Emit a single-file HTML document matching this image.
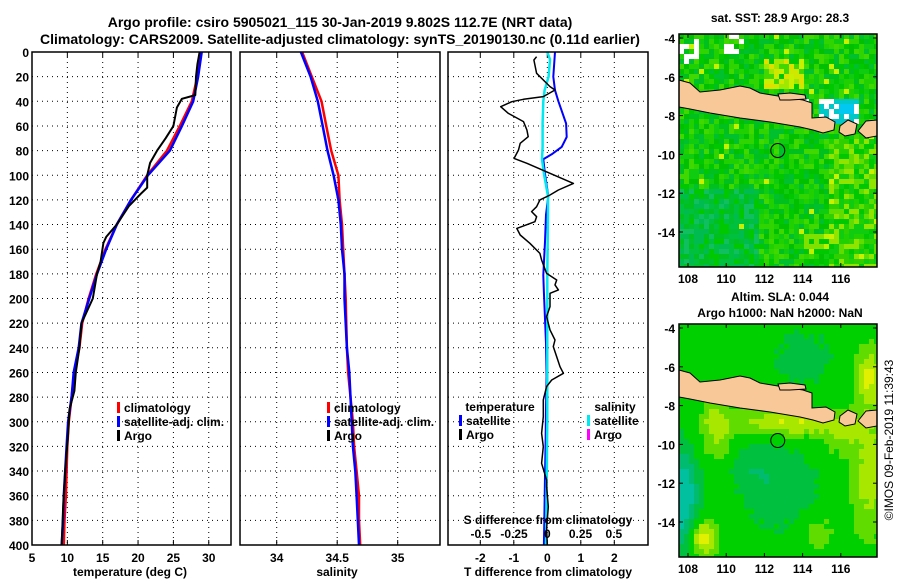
<!DOCTYPE html>
<html><head><meta charset="utf-8">
<style>
html,body{margin:0;padding:0;background:#fff;}
svg{display:block;font-family:"Liberation Sans",Arial,sans-serif;font-weight:bold;}
</style></head>
<body>
<svg id="fig" width="900" height="580" viewBox="0 0 900 580" xmlns="http://www.w3.org/2000/svg">
<text x="340" y="27" font-size="14" text-anchor="middle">Argo profile: csiro 5905021_115 30-Jan-2019 9.802S 112.7E (NRT data)</text>
<text x="340" y="44" font-size="14" text-anchor="middle">Climatology: CARS2009. Satellite-adjusted climatology: synTS_20190130.nc (0.11d earlier)</text>
<text x="780" y="22" font-size="12" text-anchor="middle">sat. SST: 28.9 Argo: 28.3</text>
<text x="780" y="301" font-size="12" text-anchor="middle">Altim. SLA: 0.044</text>
<text x="780" y="317" font-size="12" text-anchor="middle">Argo h1000: NaN h2000: NaN</text>
<text transform="translate(893,440) rotate(-90)" font-size="12" font-weight="normal" text-anchor="middle">©IMOS 09-Feb-2019 11:39:43</text>
<g id="layer"></g>
</svg>
<script>
// ---- data ----
const depthTicks=[0,20,40,60,80,100,120,140,160,180,200,220,240,260,280,300,320,340,360,380,400];
const tempTicks=[5,10,15,20,25,30];
const salTicks=[34,34.5,35];
const salTickLabels=["34","34.5","35"];
const tdTicks=[-2,-1,0,1,2];
const sdTicks=[-0.5,-0.25,0,0.25,0.5];
const sdTickLabels=["-0.5","-0.25","0","0.25","0.5"];
const lonTicks=[108,110,112,114,116];
const latTicks=[-4,-6,-8,-10,-12,-14];

const profDepth=[0,20,40,60,80,100,120,140,160,180,200,220,240,260,280,300,320,340,360,380,400];
const tempClim=[28.9,28.4,27.6,25.9,24.1,21.3,19.0,17.0,15.4,14.1,13.0,12.1,11.7,11.0,10.6,10.2,10.0,9.9,9.8,9.6,9.5];
const tempSat=[29.0,28.5,27.8,26.2,24.5,21.4,19.0,17.0,15.5,14.2,13.1,12.0,11.6,10.9,10.6,10.1,9.9,9.7,9.5,9.4,9.2];
const argoDepth=[0,10,20,35,38,45,60,70,80,90,100,110,115,125,140,150,155,170,180,200,220,240,260,275,290,310,340,370,400];
const argoTemp=[28.7,28.4,28.2,28.1,26.2,25.5,25.0,23.9,22.7,21.7,21.3,21.3,20.4,18.7,17.0,15.5,15.1,14.7,14.2,13.6,12.0,11.7,11.2,11.0,10.3,10.1,9.7,9.4,9.2];
const salClim=[34.21,34.29,34.37,34.41,34.45,34.51,34.52,34.54,34.55,34.56,34.57,34.575,34.58,34.59,34.61,34.63,34.64,34.66,34.68,34.68,34.69];
const salSat=[34.20,34.28,34.34,34.38,34.42,34.47,34.51,34.53,34.54,34.56,34.56,34.57,34.58,34.60,34.61,34.62,34.63,34.65,34.66,34.67,34.68];

const tdSatDepth=[0,20,31,40,58,69,77,83,87,99,117,132,154,181,195,236,263,290,317,344,382,400];
const tdSat=[0.23,0.18,0.23,0.33,0.56,0.58,0.43,0.13,-0.12,-0.07,0.03,-0.04,-0.07,-0.12,-0.10,-0.04,-0.02,-0.04,-0.05,-0.07,-0.09,-0.10];
const sdSatDepth=[0,6,20,31,40,58,77,87,99,117,132,181,300,400];
const sdSat=[0.0,0.02,0.01,-0.02,-0.03,-0.035,-0.035,-0.04,-0.025,0.005,0.005,0.0,0.0,-0.01];
const tdArgoDepth=[3.8,6.5,17.3,28.1,30.8,36.2,38.4,40.3,44.4,49.8,56.5,63.3,68.7,74.1,79.5,86.3,90.3,98.4,106.6,112,116,120,125.5,129.5,133.6,137.7,143.1,148.5,155.2,163.4,168.8,179.6,185,189,193,195.8,206.6,214.7,225.5,233.7,239,247.2,255.3,260.7,266.1,271.5,282.3,295.9,309.4,320.2,333.7,347.3,352.7,368.9,386.5,400];
const tdArgo=[-0.32,-0.40,-0.32,0.08,0.23,-0.12,-0.71,-1.06,-1.39,-1.16,-0.71,-0.61,-0.57,-0.81,-0.86,-0.99,-0.61,0.08,0.78,0.33,0.08,-0.22,-0.32,-0.47,-0.32,-0.37,-0.91,-0.81,-0.52,-0.22,-0.17,-0.02,0.28,0.23,0.33,0.08,0.08,-0.02,0.08,0.23,0.18,0.28,0.38,0.48,0.13,-0.02,-0.12,-0.12,-0.17,-0.12,-0.17,-0.02,-0.02,0.03,-0.02,0.0];
const argoLon=112.7, argoLat=-9.802;

// ---- helpers ----
const NS="http://www.w3.org/2000/svg";
const layer=document.getElementById('layer');
function mk(tag,attrs,parent){const e=document.createElementNS(NS,tag);for(const k in attrs)e.setAttribute(k,attrs[k]);(parent||layer).appendChild(e);return e;}
const TOP=52,BOT=545;
const yD=d=>TOP+(d/400)*(BOT-TOP);
const xT=t=>32+(t-5)*7.07;
const xS=s=>276.7+(s-34)*121;
const xTD=v=>547.3+v*33.5;
const xSD=v=>547.3+v*133;
const xLon=l=>688+(l-108)*19.1;
const yLat=(la,off)=>38+off+(-4-la)*19.4;

function panelFrame(x0,x1,name){
  const g=mk('g',{});
  
  
  depthTicks.forEach(d=>{
    if(d===0||d===400)return;
    const l=mk('line',{x1:x0,x2:x1,y1:yD(d),y2:yD(d),stroke:'#000','stroke-width':1,'stroke-dasharray':'1,4'},g);
    
    
  });
  return g;
}
function vgrid(g,xs){xs.forEach(x=>{const l=mk('line',{x1:x,x2:x,y1:TOP,y2:BOT,stroke:'#000','stroke-width':1,'stroke-dasharray':'1,4'},g);
  
  
  mk('line',{x1:x,x2:x,y1:TOP,y2:TOP+5,stroke:'#000'},g);mk('line',{x1:x,x2:x,y1:BOT,y2:BOT-5,stroke:'#000'},g);});}
function border(g,x0,x1){const r=mk('rect',{x:x0,y:TOP,width:x1-x0,height:BOT-TOP,fill:'none',stroke:'#000','stroke-width':1.5},g);
  
  }
function line(xs,ys,color,w,name,g){
  const pts=xs.map((x,i)=>x.toFixed(1)+','+ys[i].toFixed(1)).join(' ');
  const p=mk('polyline',{points:pts,fill:'none',stroke:color,'stroke-width':w,'stroke-linejoin':'round'},g);
  
  
  return p;
}
function txt(x,y,s,anchor,size,name,g){const t=mk('text',{x:x,y:y,'text-anchor':anchor,'font-size':size},g);t.textContent=s;
  
  
  return t;}
function legendEntry(x,y,color,label,g){
  const r=mk('rect',{x:x,y:y-10,width:3,height:11,fill:color},g);
  
  
  const t=txt(x+7,y,label,'start',12,'legend-entry',g);
  return t;
}

depthTicks.forEach(d=>{txt(29,yD(d)+5,String(d),'end',12,'depth-tick-label');});

// ---- panel 1: temperature ----
const p1=panelFrame(32,231,'temperature-panel');
vgrid(p1,tempTicks.slice(1).map(xT));
line(tempClim.map(xT),profDepth.map(yD),'#ff0000',2.5,'temp-climatology-line',p1);
line(tempSat.map(xT),profDepth.map(yD),'#0000ff',2.5,'temp-satellite-line',p1);
line(argoTemp.map(xT),argoDepth.map(yD),'#000000',2,'temp-argo-line',p1);
border(p1,32,231);
tempTicks.forEach(t=>txt(xT(t),562,String(t),'middle',12,'temp-tick-label',p1));
txt(130,576,'temperature (deg C)','middle',12,'temperature-axis-title',p1);
legendEntry(117,412,'#ff0000','climatology',p1);
legendEntry(117,426,'#0000ff','satellite-adj. clim.',p1);
legendEntry(117,440,'#000000','Argo',p1);

// ---- panel 2: salinity ----
const p2=panelFrame(240,440,'salinity-panel');
vgrid(p2,salTicks.map(xS));
line(salClim.map(xS),profDepth.map(yD),'#ff0000',2.5,'sal-climatology-line',p2);
line(salSat.map(xS),profDepth.map(yD),'#0000ff',2.5,'sal-satellite-line',p2);
border(p2,240,440);
salTicks.forEach((s,i)=>txt(xS(s),562,salTickLabels[i],'middle',12,'sal-tick-label',p2));
txt(337,576,'salinity','middle',12,'salinity-axis-title',p2);
legendEntry(327,412,'#ff0000','climatology',p2);
legendEntry(327,426,'#0000ff','satellite-adj. clim.',p2);
legendEntry(327,440,'#000000','Argo',p2);

// ---- panel 3: differences ----
const p3=panelFrame(448,648,'difference-panel');
vgrid(p3,tdTicks.map(xTD));
line(tdSat.map(xTD),tdSatDepth.map(yD),'#0000ff',2,'temp-diff-satellite-line',p3);
line(sdSat.map(xSD),sdSatDepth.map(yD),'#00e8f0',2.5,'sal-diff-satellite-line',p3);
line(tdArgo.map(xTD),tdArgoDepth.map(yD),'#000000',1.5,'temp-diff-argo-line',p3);
border(p3,448,648);
tdTicks.forEach(t=>txt(xTD(t),562,String(t),'middle',12,'tdiff-tick-label',p3));
txt(548,576,'T difference from climatology','middle',12,'tdiff-axis-title',p3);
sdTicks.forEach((s,i)=>txt(xSD(s),538,sdTickLabels[i],'middle',12,'sdiff-tick-label',p3));
txt(548,524,'S difference from climatology','middle',12,'sdiff-axis-title',p3);
txt(500,411,'temperature','middle',12,'temp-legend-header',p3);
legendEntry(459,425,'#0000ff','satellite',p3);
legendEntry(459,439,'#000000','Argo',p3);
txt(615,411,'salinity','middle',12,'sal-legend-header',p3);
legendEntry(587,425,'#00e8f0','satellite',p3);
legendEntry(587,439,'#ff00ff','Argo',p3);

// ---- maps ----
function hash(i,j,s){let h=(i*374761393+j*668265263+s*97)|0;h=(h^(h>>>13))*1274126177|0;return ((h^(h>>>16))>>>0)/4294967295;}
function javaPolys(off){
  return [
  [[679,80],[690,83],[700,92],[720,90],[740,86],[750,88],[760,93],[778,96],[790,98],[803,100],[812,103],[812,118],[826,117],[835,122],[834,130],[823,133],[813,130],[800,127],[770,122],[740,118],[710,113],[690,109],[679,107]],
  [[778,94],[790,93],[805,95],[806,99],[790,100],[780,100]],
  [[840,126],[848,120],[857,124],[855,134],[845,136],[839,132]],
  [[858,131],[866,121],[877,120],[877,136],[866,138]]
  ].map(p=>p.map(q=>[q[0],q[1]+off]));
}
function drawMap(off,kind){
  const g=mk('g',{});
  
  
  const x0=679,x1=877,y0=34+off,y1=267+off,cs=5;
  for(let y=y0,j=0;y<y1;y+=cs,j++){for(let x=x0,i=0;x<x1;x+=cs,i++){
    let col;
    const cx=x+2.5,cy=y+2.5-off;
    if(kind==='sst'){
      const r=hash(i,j,1);
      let pal=['#00c800','#10cc10','#00c030','#20d000','#00c020','#30d400','#00c000','#40d800'];
      if(cx<760&&cy>190)pal=['#00c040','#00bb50','#00c800','#10c060','#00c020','#00c030'];
      if(cx>830&&cy>140)pal=['#30d000','#00c800','#60dc00','#10cc10','#90e400','#20d000'];
      if(cx>765&&cx<805&&cy>60&&cy<90)pal=['#e0e000','#c8f000','#a0e800','#00c800','#d0e800','#40d800'];
      if(cx>805&&cx<830&&cy>235&&cy<255)pal=['#c0f000','#80e000','#00c800'];
      col=pal[Math.floor(r*pal.length)];
      if(r>0.985)col='#c8f000';
      if(cx>680&&cx<700&&cy>40&&cy<78&&r<0.3)col='#ffffff';
      if(cx>725&&cx<745&&cy>34&&cy<52&&r<0.5)col='#ffffff';
      if(cx>770&&cx<808&&cy>97&&cy<113)col='#ffffff';
      if(cx>820&&cx<860&&cy>97&&cy<122)col=hash(i,j,4)<0.6?'#00c8c8':'#ffffff';
      if(cx>840&&cx<856&&cy>102&&cy<116)col='#00c8f0';
    } else {
      const lon=108+(cx-688)/19.1, lat=-4-(cy-38)/19.4;
      const G=(a,b,sa,sb)=>Math.exp(-((lon-a)*(lon-a))/(2*sa*sa)-((lat-b)*(lat-b))/(2*sb*sb));
      let v=0.1-1.2*G(107.6,-12.8,0.7,1.8)+0.9*G(108.8,-14.8,0.5,0.7)+0.7*G(113.3,-8.9,2.2,0.5)+0.45*G(109.5,-9.3,0.6,1.3)
        -0.4*G(113,-12.5,1.6,1.6)-0.3*G(111.5,-11,1,1)+0.55*G(117.5,-11.5,0.7,2.3)+0.7*G(117.5,-6.5,0.5,1.0)
        -0.3*G(114,-5.5,1.5,1.3)+0.3*G(116,-9.8,0.6,0.6)+0.35*G(114.8,-14.5,0.7,0.7);
      v+= (hash(i,j,7)-0.5)*0.1;
      if(v<-0.7)col='#00c0a0';else if(v<-0.4)col='#00bb70';else if(v<-0.1)col='#00c040';
      else if(v<0.25)col='#00d000';else if(v<0.5)col='#60dc00';else if(v<0.75)col='#a8e800';else col='#e0f000';
    }
    mk('rect',{x:x,y:y,width:Math.min(cs,x1-x),height:Math.min(cs,y1-y),fill:col},g);
  }}
  javaPolys(off).forEach(p=>{const pg=mk('polygon',{points:p.map(q=>q.join(',')).join(' '),fill:'#f8c898',stroke:'#000','stroke-width':1},g);
    
    });
  const ring=mk('circle',{cx:xLon(argoLon),cy:yLat(argoLat,off),r:7,fill:'none',stroke:'#000','stroke-width':1},g);
  
  
  const b=mk('rect',{x:x0,y:y0,width:x1-x0,height:y1-y0,fill:'none',stroke:'#000','stroke-width':1.5},g);
  
  
  lonTicks.forEach(l=>{const x=xLon(l);mk('line',{x1:x,x2:x,y1:y0,y2:y0+4,stroke:'#000'},g);mk('line',{x1:x,x2:x,y1:y1,y2:y1-4,stroke:'#000'},g);
    txt(x,y1+16,String(l),'middle',12,'lon-tick-label',g);});
  latTicks.forEach(la=>{const y=yLat(la,off);mk('line',{x1:x0,x2:x0+4,y1:y,y2:y,stroke:'#000'},g);mk('line',{x1:x1,x2:x1-4,y1:y,y2:y,stroke:'#000'},g);
    txt(675,y+5,String(la),'end',12,'lat-tick-label',g);});
}
drawMap(0,'sst');
drawMap(290,'sla');
</script>
</body></html>
